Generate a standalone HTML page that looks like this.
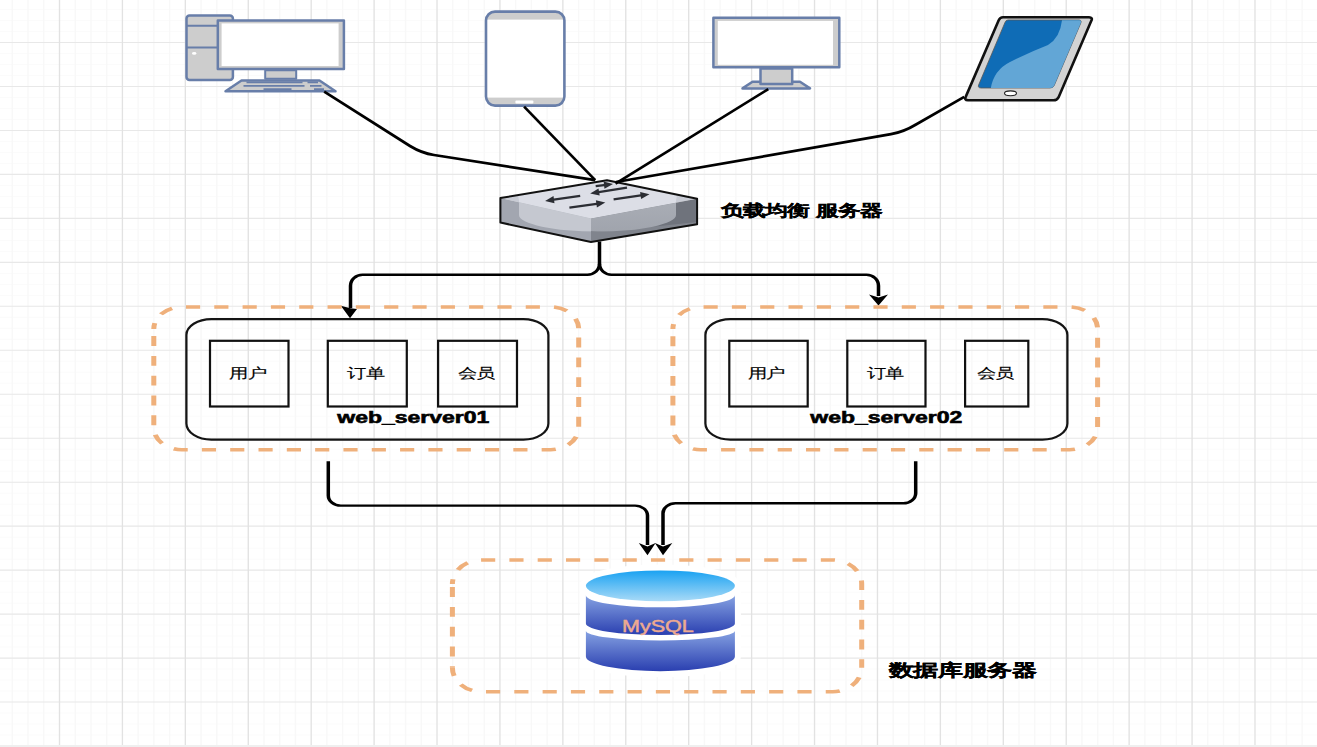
<!DOCTYPE html>
<html><head><meta charset="utf-8"><style>
html,body{margin:0;padding:0;background:#fff;width:1317px;height:747px;overflow:hidden}
svg{position:absolute;left:0;top:0;display:block}
text{font-family:"Liberation Sans",sans-serif}
</style></head><body>
<svg width="1317" height="747" viewBox="0 0 1317 747">
<path d="M0 9.52H1317M0 20.52H1317M0 31.51H1317M0 53.49H1317M0 64.48H1317M0 75.48H1317M0 97.46H1317M0 108.45H1317M0 119.45H1317M0 141.43H1317M0 152.43H1317M0 163.42H1317M0 185.40H1317M0 196.39H1317M0 207.39H1317M0 229.37H1317M0 240.37H1317M0 251.36H1317M0 273.34H1317M0 284.33H1317M0 295.33H1317M0 317.31H1317M0 328.31H1317M0 339.30H1317M0 361.28H1317M0 372.27H1317M0 383.27H1317M0 405.25H1317M0 416.25H1317M0 427.24H1317M0 449.22H1317M0 460.21H1317M0 471.21H1317M0 493.19H1317M0 504.19H1317M0 515.18H1317M0 537.16H1317M0 548.15H1317M0 559.15H1317M0 581.13H1317M0 592.12H1317M0 603.12H1317M0 625.10H1317M0 636.10H1317M0 647.09H1317M0 669.07H1317M0 680.06H1317M0 691.06H1317M0 713.04H1317M0 724.03H1317M0 735.03H1317" stroke="#fbfbfb" stroke-width="1.0" fill="none"/>
<path d="M12.31 0V747M28.04 0V747M43.77 0V747M75.23 0V747M90.96 0V747M106.69 0V747M138.15 0V747M153.88 0V747M169.61 0V747M201.07 0V747M216.80 0V747M232.53 0V747M263.99 0V747M279.72 0V747M295.45 0V747M326.91 0V747M342.64 0V747M358.37 0V747M389.83 0V747M405.56 0V747M421.29 0V747M452.75 0V747M468.48 0V747M484.21 0V747M515.67 0V747M531.40 0V747M547.13 0V747M578.59 0V747M594.32 0V747M610.05 0V747M641.51 0V747M657.24 0V747M672.97 0V747M704.43 0V747M720.16 0V747M735.89 0V747M767.35 0V747M783.08 0V747M798.81 0V747M830.27 0V747M846.00 0V747M861.73 0V747M893.19 0V747M908.92 0V747M924.65 0V747M956.11 0V747M971.84 0V747M987.57 0V747M1019.03 0V747M1034.76 0V747M1050.49 0V747M1081.95 0V747M1097.68 0V747M1113.41 0V747M1144.87 0V747M1160.60 0V747M1176.33 0V747M1207.79 0V747M1223.52 0V747M1239.25 0V747M1270.71 0V747M1286.44 0V747M1302.17 0V747" stroke="#f8f8f8" stroke-width="1.4" fill="none"/>
<path d="M0 42.50H1317M0 86.47H1317M0 130.44H1317M0 174.41H1317M0 218.38H1317M0 262.35H1317M0 306.32H1317M0 350.29H1317M0 394.26H1317M0 438.23H1317M0 482.20H1317M0 526.17H1317M0 570.14H1317M0 614.11H1317M0 658.08H1317M0 702.05H1317M0 746.02H1317" stroke="#e8e8e8" stroke-width="1.1" fill="none"/>
<path d="M59.50 0V747M122.42 0V747M185.34 0V747M248.26 0V747M311.18 0V747M374.10 0V747M437.02 0V747M499.94 0V747M562.86 0V747M625.78 0V747M688.70 0V747M751.62 0V747M814.54 0V747M877.46 0V747M940.38 0V747M1003.30 0V747M1066.22 0V747M1129.14 0V747M1192.06 0V747M1254.98 0V747M1317.90 0V747" stroke="#e2e2e2" stroke-width="1.35" fill="none"/>
<g stroke="#687ea9" stroke-width="2.5" stroke-linejoin="round">
<rect x="186.5" y="15.6" width="46.4" height="64.3" rx="3" fill="#cdcdcd"/>
<path d="M186.5 25.8H217M186.5 47.6H217" fill="none" stroke-width="2"/>
<rect x="217.8" y="20.5" width="126.1" height="48.4" fill="#cdcdcd"/>
<rect x="221.6" y="23.4" width="117" height="42.6" fill="#fff" stroke="none"/>
<rect x="265.2" y="70.2" width="31" height="8.5" fill="#cdcdcd" stroke-width="2"/>
<path d="M241.5 80.5H319.5L335.5 91.2H225.5Z" fill="#cdcdcd"/>
<path d="M246.5 82.4H302.5M307.5 82.4H318M243.5 85.8H304.5M310 85.8H321.5M263.5 89.2H291.5M314 89.2H324" fill="none" stroke-width="1.7"/>
</g>
<ellipse cx="194.2" cy="53.4" rx="2.2" ry="1.3" fill="#fff"/>
<defs><clipPath id="phc"><rect x="486" y="11.6" width="78.4" height="94" rx="9"/></clipPath></defs>
<g>
<rect x="486" y="11.6" width="78.4" height="94" rx="9" fill="#fff"/>
<g clip-path="url(#phc)">
<rect x="480" y="8" width="90" height="11.6" fill="#cdcdcd"/>
<rect x="480" y="97.6" width="90" height="12" fill="#cdcdcd"/>
</g>
<rect x="486" y="11.6" width="78.4" height="94" rx="9" fill="none" stroke="#687ea9" stroke-width="2.6"/>
<rect x="515.4" y="100.6" width="18" height="3" rx="1" fill="#fff"/>
</g>
<g stroke="#687ea9" stroke-width="2.5" stroke-linejoin="round">
<path d="M752.5 81.8H800L810 88.4H742.5Z" fill="#cdcdcd"/>
<rect x="760.5" y="68.6" width="31.7" height="15.5" fill="#cdcdcd"/>
<rect x="713.4" y="17.8" width="125.9" height="49.5" fill="#cdcdcd"/>
<rect x="717.8" y="20.9" width="115.2" height="43.9" fill="#fff" stroke="none"/>
</g>
<g>
<path d="M1003 17.2H1089Q1093 17.4 1091.4 20.6L1058.5 97.4Q1057 100.3 1053.5 100.3H968Q964 100 965.8 96.6L998.6 20.4Q1000 17.2 1003 17.2Z" fill="#d3d3d3" stroke="#111" stroke-width="2.6"/>
<path d="M1008 20H1079Q1082 20.3 1080.8 23L1054.2 85.5Q1053 88 1050 88H981Q977.5 87.8 978.6 85L1005 22.4Q1006 20 1008 20Z" fill="#0f6cb6" stroke="#555" stroke-width="0.8"/>
<path d="M1062 20.3H1079Q1082 20.3 1080.8 23L1054.2 85.5Q1053 88 1050 88H990.8Q994 70 1010 62Q1030 52 1048 45Q1060 38 1062 20.3Z" fill="#62a6d6"/>
<ellipse cx="1010.5" cy="93.3" rx="6" ry="2.4" fill="#fff" stroke="#222" stroke-width="1.1"/>
</g>
<g stroke-linejoin="round">
<defs>
<linearGradient id="swl" x1="0" y1="0" x2="1" y2="0"><stop offset="0" stop-color="#9a9fa9"/><stop offset="1" stop-color="#b9bdc6"/></linearGradient>
<linearGradient id="swr" x1="0" y1="0" x2="1" y2="0"><stop offset="0" stop-color="#a2a6ae"/><stop offset="0.8" stop-color="#8c9099"/><stop offset="1" stop-color="#5f646d"/></linearGradient>
<clipPath id="swc"><path d="M607 180.2L697.1 198.8V224.3L591 241.9L500.4 222.6V198.1Z"/></clipPath>
<clipPath id="swe"><path d="M519 200V215A78.5 16.6 0 0 0 597.5 231.6A78.5 16.6 0 0 0 676 215V200A35 20 0 0 0 641 176H554A35 20 0 0 0 519 200Z"/></clipPath>
<linearGradient id="swr2" x1="0" y1="0" x2="0" y2="1"><stop offset="0" stop-color="#aaaeb6"/><stop offset="1" stop-color="#9da1aa"/></linearGradient>
</defs>
<path d="M607 180.2L697.1 198.8L591 218.5L500.4 198.1Z" fill="#c9ccd5"/>
<path d="M500.4 198.1L591 218.5V241.9L500.4 222.6Z" fill="#a2a6b0"/>
<path d="M591 218.5L697.1 198.8V224.3L591 241.9Z" fill="#6f737c"/>
<path d="M591 232L660 226V226L697 222V224.3L591 241.9Z" fill="#80848d"/>
<g clip-path="url(#swe)">
<path d="M607 180.2L697.1 198.8L591 218.5L500.4 198.1Z" fill="#dcdee6"/>
<path d="M500.4 198.1L591 218.5V241.9L500.4 222.6Z" fill="#c5c8d0"/>
<path d="M591 218.5L697.1 198.8V224.3L591 241.9Z" fill="url(#swr2)"/>
</g>
<path d="M500.4 222.6L591 241.9V236L540 226Z" fill="#9da1ab" opacity="0"/>
<path d="M607 180.2L697.1 198.8V224.3L591 241.9L500.4 222.6V198.1Z" fill="none" stroke="#111" stroke-width="2"/>
<path d="M580.2 195.9L552.0 199.9" stroke="#2b2d33" stroke-width="2.3" fill="none"/><path d="M545.1 200.9L553.5 196.1L554.5 203.2Z" fill="#2b2d33"/>
<path d="M569.4 207.6L598.4 203.6" stroke="#2b2d33" stroke-width="2.3" fill="none"/><path d="M605.3 202.6L596.9 207.4L595.9 200.3Z" fill="#2b2d33"/>
<path d="M627.0 187.6L597.1 192.3" stroke="#2b2d33" stroke-width="2.3" fill="none"/><path d="M590.2 193.4L598.5 188.4L599.7 195.6Z" fill="#2b2d33"/>
<path d="M613.6 199.3L642.6 195.2" stroke="#2b2d33" stroke-width="2.3" fill="none"/><path d="M649.5 194.2L641.1 199.0L640.1 191.9Z" fill="#2b2d33"/>
<path d="M595.7 186.2L606.1 184.9" stroke="#2b2d33" stroke-width="2.3" fill="none"/><path d="M613.0 184.0L604.5 188.7L603.6 181.6Z" fill="#2b2d33"/>
</g>
<g stroke="#000" stroke-width="2.7" fill="none" stroke-linejoin="round">
<path d="M324.2 91.6L410 146Q421.5 153.1 434 155L595.2 180.2"/>
<path d="M524.1 106.6L595.2 180.1"/>
<path d="M768.3 89.1L615.5 183.6"/>
<path d="M964.2 96.8L916 124.5Q904 131.8 891 134.2L616 182"/>
</g>
<g transform="scale(1.43 1)" stroke="#000" stroke-width="2.45" fill="none"><path d="M419.231 241.5V263.8A8.392 11 0 0 1 410.839 274.8H253.497A8.392 11 0 0 0 245.105 285.8V308"/><path d="M419.231 263.8A8.392 11 0 0 0 427.622 274.8H605.944A8.392 11 0 0 1 614.336 285.8V296"/><path d="M229.580 461.3V495.6A8.741 10 0 0 0 238.322 505.6H444.056A8.741 10 0 0 1 452.797 515.6V545"/><path d="M640.350 461.3V493.3A8.741 10 0 0 1 631.608 503.3H472.378A8.741 10 0 0 0 463.636 513.3V545"/></g>
<g fill="#000">
<path d="M340.8 305.8L350.5 308.3L357 309L350 318.2Z"/>
<path d="M869 294.4L878.5 297.5L888 294.4L878.5 305.5Z"/>
<path d="M638.8 543L647.5 546.5L655.6 543L647.5 555.2Z"/>
<path d="M654.9 543L663 546.5L672.3 543L663 555.2Z"/>
</g>
<g transform="scale(1.43 1)">
<path d="M107.55 328.90A19.58 22 0 0 1 127.13 306.9H385.10A19.58 22 0 0 1 404.69 328.90" fill="none" stroke="#efb07b" stroke-width="3.5" stroke-dasharray="9.9 9.9" stroke-dashoffset="4.05"/>
<path d="M107.55 427.70A19.58 22 0 0 0 127.13 449.7H385.10A19.58 22 0 0 0 404.69 427.70" fill="none" stroke="#efb07b" stroke-width="3.5" stroke-dasharray="9.9 9.9" stroke-dashoffset="12.73"/>
<path d="M107.55 328.90V427.70" fill="none" stroke="#efb07b" stroke-width="3.5" stroke-dasharray="9.9 9.9" stroke-dashoffset="12.60"/>
<path d="M404.69 328.90V427.70" fill="none" stroke="#efb07b" stroke-width="3.5" stroke-dasharray="9.9 9.9" stroke-dashoffset="11.10"/>
<path d="M470.56 328.90A19.58 22 0 0 1 490.14 306.9H747.97A19.58 22 0 0 1 767.55 328.90" fill="none" stroke="#efb07b" stroke-width="3.5" stroke-dasharray="9.9 9.9" stroke-dashoffset="5.11"/>
<path d="M470.56 427.70A19.58 22 0 0 0 490.14 449.7H747.97A19.58 22 0 0 0 767.55 427.70" fill="none" stroke="#efb07b" stroke-width="3.5" stroke-dasharray="9.9 9.9" stroke-dashoffset="12.66"/>
<path d="M470.56 328.90V427.70" fill="none" stroke="#efb07b" stroke-width="3.5" stroke-dasharray="9.9 9.9" stroke-dashoffset="12.40"/>
<path d="M767.55 328.90V427.70" fill="none" stroke="#efb07b" stroke-width="3.5" stroke-dasharray="9.9 9.9" stroke-dashoffset="10.90"/>
<path d="M316.36 584.00A20.28 24 0 0 1 336.64 560H582.31A20.28 24 0 0 1 602.59 584.00" fill="none" stroke="#efb07b" stroke-width="3.5" stroke-dasharray="9.9 9.9" stroke-dashoffset="5.05"/>
<path d="M316.36 667.70A20.28 24 0 0 0 336.64 691.7H582.31A20.28 24 0 0 0 602.59 667.70" fill="none" stroke="#efb07b" stroke-width="3.5" stroke-dasharray="9.9 9.9" stroke-dashoffset="1.61"/>
<path d="M316.36 584.00V667.70" fill="none" stroke="#efb07b" stroke-width="3.5" stroke-dasharray="9.9 9.9" stroke-dashoffset="16.70"/>
<path d="M602.59 584.00V667.70" fill="none" stroke="#efb07b" stroke-width="3.5" stroke-dasharray="9.9 9.9" stroke-dashoffset="3.90"/>
</g>
<g fill="none" stroke="#141414" stroke-width="2.25">
<path d="M186.4 335.0A25 16 0 0 1 211.4 319.0H523.4A25 16 0 0 1 548.4 335.0V423.6A25 16 0 0 1 523.4 439.6H211.4A25 16 0 0 1 186.4 423.6Z"/>
<path d="M705.4 335.0A25 16 0 0 1 730.4 319.0H1042.4A25 16 0 0 1 1067.4 335.0V423.6A25 16 0 0 1 1042.4 439.6H730.4A25 16 0 0 1 705.4 423.6Z"/>
</g><g fill="none" stroke="#111" stroke-width="2.2">
<rect x="210" y="340.8" width="78.5" height="65.7"/>
<rect x="327.8" y="340.8" width="79.0" height="65.7"/>
<rect x="438.1" y="340.8" width="78.9" height="65.7"/>
<rect x="729.3" y="340.8" width="78.4" height="65.7"/>
<rect x="847.3" y="340.8" width="78.2" height="65.7"/>
<rect x="965.1" y="340.8" width="63.2" height="65.7"/>
</g>
<defs>
<linearGradient id="dbt" x1="0" y1="0" x2="0" y2="1"><stop offset="0" stop-color="#1aa2f2"/><stop offset="1" stop-color="#a8daf7"/></linearGradient>
<linearGradient id="dbm" x1="0" y1="0" x2="0" y2="1"><stop offset="0" stop-color="#86a2e2"/><stop offset="1" stop-color="#2a3fb0"/></linearGradient>
</defs>
<path d="M585.9 586A74.5 15.4 0 0 1 734.9 586V656.4A74.5 14.8 0 0 1 585.9 656.4Z" fill="#fff" stroke="#fff" stroke-width="12" stroke-linejoin="round"/>
<ellipse cx="660.4" cy="585.8" rx="74.5" ry="15.4" fill="url(#dbt)"/>
<path d="M585.9 595.3A74.5 12 0 0 0 734.9 595.3V623.5A74.5 11.5 0 0 1 585.9 623.5Z" fill="url(#dbm)"/>
<path d="M585.9 630.7A74.5 9.7 0 0 0 734.9 630.7V656.4A74.5 14.8 0 0 1 585.9 656.4Z" fill="url(#dbm)"/>
<rect x="0" y="745" width="1317" height="2" fill="#efefef"/>
<g font-family="Liberation Sans, sans-serif"><text transform="translate(247.6 377.7) scale(1.38 1)" font-size="13.5" font-weight="normal" fill="#000" text-anchor="middle" stroke="#000" stroke-width="0.15">用户</text><text transform="translate(365.8 377.7) scale(1.38 1)" font-size="13.5" font-weight="normal" fill="#000" text-anchor="middle" stroke="#000" stroke-width="0.15">订单</text><text transform="translate(476.3 377.7) scale(1.38 1)" font-size="13.5" font-weight="normal" fill="#000" text-anchor="middle" stroke="#000" stroke-width="0.15">会员</text><text transform="translate(766.1 377.7) scale(1.38 1)" font-size="13.5" font-weight="normal" fill="#000" text-anchor="middle" stroke="#000" stroke-width="0.15">用户</text><text transform="translate(885.1 377.7) scale(1.38 1)" font-size="13.5" font-weight="normal" fill="#000" text-anchor="middle" stroke="#000" stroke-width="0.15">订单</text><text transform="translate(995.0 377.7) scale(1.38 1)" font-size="13.5" font-weight="normal" fill="#000" text-anchor="middle" stroke="#000" stroke-width="0.15">会员</text><text transform="translate(413.3 423.2) scale(1.42 1)" font-size="16.2" font-weight="bold" fill="#000" text-anchor="middle" stroke="#000" stroke-width="0.6">web_server01</text><text transform="translate(886.3 423.2) scale(1.42 1)" font-size="16.2" font-weight="bold" fill="#000" text-anchor="middle" stroke="#000" stroke-width="0.6">web_server02</text><text transform="translate(801.5 215.6) scale(1.425 1)" font-size="15.5" font-weight="bold" fill="#000" text-anchor="middle" stroke="#000" stroke-width="0.3">负载均衡 服务器</text><text transform="translate(962.6 676.4) scale(1.474 1)" font-size="16.9" font-weight="bold" fill="#000" text-anchor="middle" stroke="#000" stroke-width="0.3">数据库服务器</text><text transform="translate(657.9 631.9) scale(1.33 1)" font-size="16.2" font-weight="normal" fill="#eeaa90" text-anchor="middle" stroke="#eeaa90" stroke-width="0.45">MySQL</text></g>
</svg>
</body></html>
